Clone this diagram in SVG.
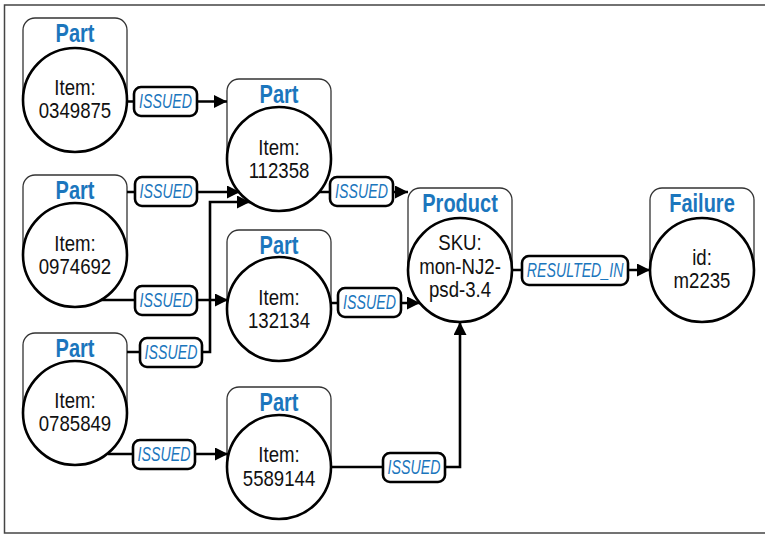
<svg xmlns="http://www.w3.org/2000/svg" width="765" height="535" viewBox="0 0 765 535">
<style>
.tab{fill:#fff;stroke:#333;stroke-width:1.3}
.node circle{fill:#fff;stroke:#000;stroke-width:2.6}
text{font-family:"Liberation Sans",Arial,sans-serif;text-anchor:middle;transform-box:fill-box;transform-origin:center}
.lbl{font-size:25px;font-weight:bold;fill:#1b76bd;transform:scaleX(0.8)}
.val{font-size:23px;fill:#111;transform:scaleX(0.81)}
.edge{fill:none;stroke:#000;stroke-width:2.6}
.box{fill:#fff;stroke:#000;stroke-width:2.6}
.elbl{font-size:20px;font-style:italic;fill:#1b76bd;transform:scaleX(0.71)}
</style>
<defs>
<marker id="arr" markerUnits="userSpaceOnUse" markerWidth="13" markerHeight="13" viewBox="0 0 10 10" refX="10" refY="5" orient="auto">
<path d="M0,0 L10,5 L0,10 z" fill="#000"/>
</marker>
</defs>
<rect x="4.5" y="5" width="790" height="528" fill="#fff" stroke="#444" stroke-width="1.5"/>

<g id="n1" class="node">
<path class="tab" d="M23,100 V30 A12,12 0 0 1 35,18 H115 A12,12 0 0 1 127,30 V100"/>
<circle cx="75" cy="100" r="52"/>
<text class="lbl" x="75" y="42">Part</text>
<text class="val" x="75" y="95">Item:</text>
<text class="val" x="75" y="118">0349875</text>
</g>
<g id="n2" class="node">
<path class="tab" d="M23,255 V187 A12,12 0 0 1 35,175 H115 A12,12 0 0 1 127,187 V255"/>
<circle cx="75" cy="255" r="52"/>
<text class="lbl" x="75" y="199">Part</text>
<text class="val" x="75" y="251">Item:</text>
<text class="val" x="75" y="274">0974692</text>
</g>
<g id="n3" class="node">
<path class="tab" d="M23,413 V345 A12,12 0 0 1 35,333 H115 A12,12 0 0 1 127,345 V413"/>
<circle cx="75" cy="413" r="52"/>
<text class="lbl" x="75" y="357">Part</text>
<text class="val" x="75" y="408">Item:</text>
<text class="val" x="75" y="431">0785849</text>
</g>
<g id="n4" class="node">
<path class="tab" d="M227,159 V91 A12,12 0 0 1 239,79 H319 A12,12 0 0 1 331,91 V159"/>
<circle cx="279" cy="159" r="52"/>
<text class="lbl" x="279" y="103">Part</text>
<text class="val" x="279" y="155">Item:</text>
<text class="val" x="279" y="178">112358</text>
</g>
<g id="n5" class="node">
<path class="tab" d="M227,309 V242 A12,12 0 0 1 239,230 H319 A12,12 0 0 1 331,242 V309"/>
<circle cx="279" cy="309" r="52"/>
<text class="lbl" x="279" y="254">Part</text>
<text class="val" x="279" y="305">Item:</text>
<text class="val" x="279" y="328">132134</text>
</g>
<g id="n6" class="node">
<path class="tab" d="M227,467 V399 A12,12 0 0 1 239,387 H319 A12,12 0 0 1 331,399 V467"/>
<circle cx="279" cy="467" r="52"/>
<text class="lbl" x="279" y="411">Part</text>
<text class="val" x="279" y="462">Item:</text>
<text class="val" x="279" y="486">5589144</text>
</g>
<g id="product" class="node">
<path class="tab" d="M408,270 V200 A12,12 0 0 1 420,188 H500 A12,12 0 0 1 512,200 V270"/>
<circle cx="460" cy="270" r="52"/>
<text class="lbl" x="460" y="212">Product</text>
<text class="val" x="460" y="250">SKU:</text>
<text class="val" x="460" y="274">mon-NJ2-</text>
<text class="val" x="460" y="297">psd-3.4</text>
</g>
<g id="failure" class="node">
<path class="tab" d="M650,270 V200 A12,12 0 0 1 662,188 H742 A12,12 0 0 1 754,200 V270"/>
<circle cx="702" cy="270" r="52"/>
<text class="lbl" x="702" y="212">Failure</text>
<text class="val" x="702" y="265">id:</text>
<text class="val" x="702" y="288">m2235</text>
</g>

<g id="connectors">
<path class="edge" d="M127,101.5 H227" marker-end="url(#arr)"/>
<rect class="box" x="134" y="87" width="63" height="29" rx="7"/>
<text class="elbl" x="165.5" y="108.5">ISSUED</text>

<path class="edge" d="M127,192 H240" marker-end="url(#arr)"/>
<rect class="box" x="135" y="177" width="62" height="29" rx="7"/>
<text class="elbl" x="166" y="198.5">ISSUED</text>

<path class="edge" d="M127,352 H210 V202 H250" marker-end="url(#arr)"/>
<rect class="box" x="140" y="338" width="62" height="29" rx="7"/>
<text class="elbl" x="171" y="359.5">ISSUED</text>

<path class="edge" d="M101,300 H228" marker-end="url(#arr)"/>
<rect class="box" x="135" y="286" width="62" height="29" rx="7"/>
<text class="elbl" x="166" y="307.5">ISSUED</text>

<path class="edge" d="M108,454 H228" marker-end="url(#arr)"/>
<rect class="box" x="133" y="440" width="62" height="29" rx="7"/>
<text class="elbl" x="164" y="461.5">ISSUED</text>

<path class="edge" d="M319,192 H408" marker-end="url(#arr)"/>
<rect class="box" x="330" y="177" width="63" height="29" rx="7"/>
<text class="elbl" x="361.5" y="198.5">ISSUED</text>

<path class="edge" d="M331,303 H420" marker-end="url(#arr)"/>
<rect class="box" x="338" y="288" width="63" height="29" rx="7"/>
<text class="elbl" x="369.5" y="309.5">ISSUED</text>

<path class="edge" d="M331,467 H460 V322" marker-end="url(#arr)"/>
<rect class="box" x="383" y="453" width="62" height="29" rx="7"/>
<text class="elbl" x="414" y="474.5">ISSUED</text>

<path class="edge" d="M512,270 H650" marker-end="url(#arr)"/>
<rect class="box" x="522" y="256" width="106" height="29" rx="7"/>
<text class="elbl" x="575" y="277.5">RESULTED_IN</text>
</g>
</svg>
